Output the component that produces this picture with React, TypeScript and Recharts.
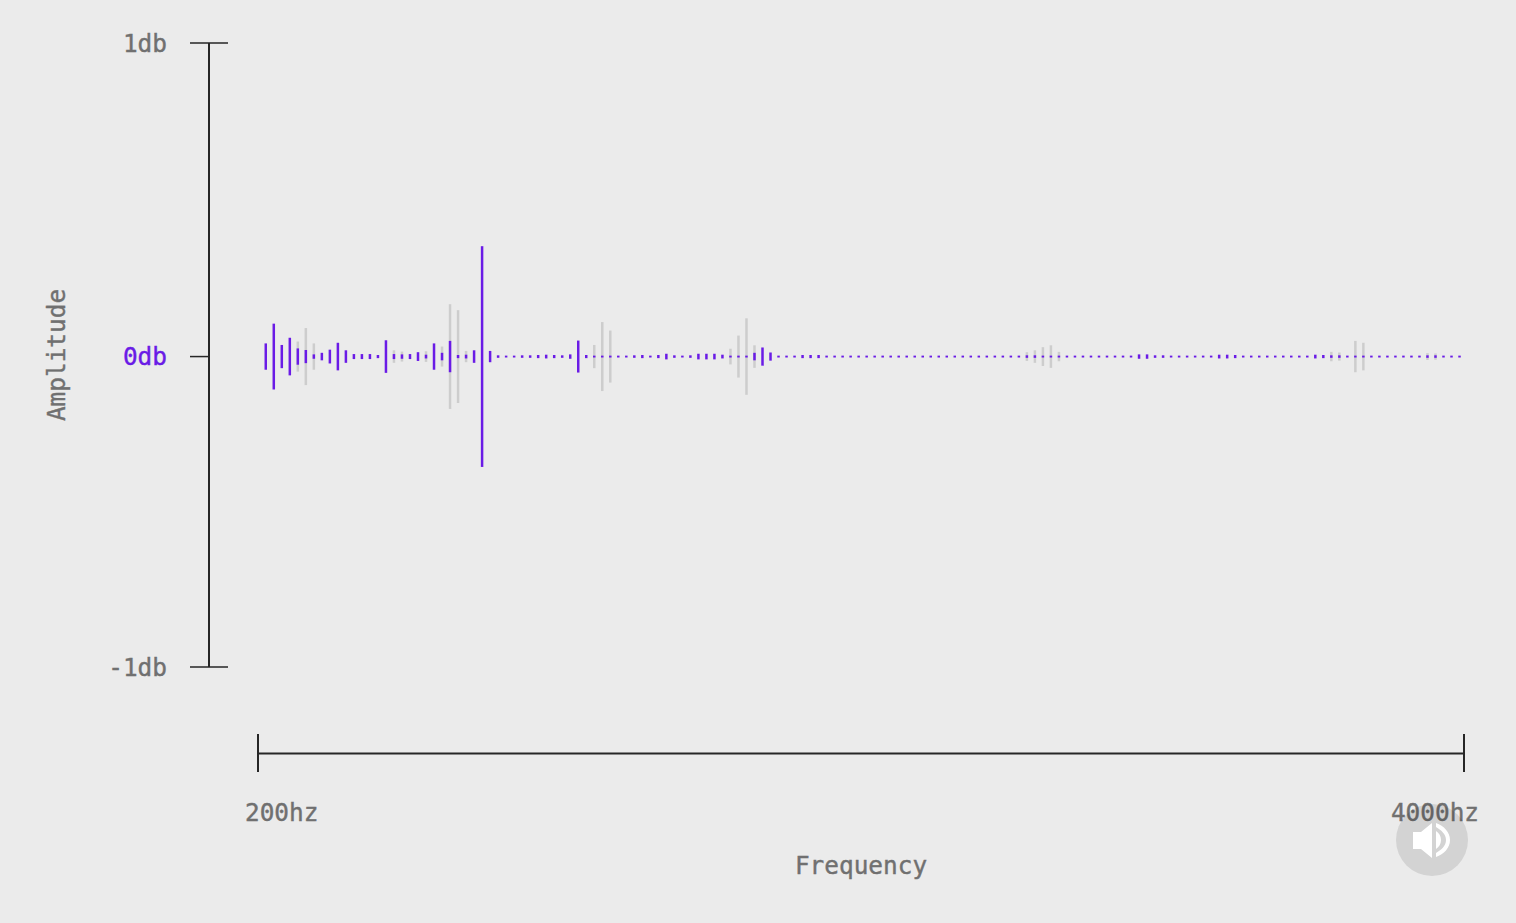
import { BarChart, Bar, XAxis, YAxis, Label, ReferenceLine } from 'recharts';

// amplitude (db, half the drawn height) per frequency bin
const voiced = [
  0.042, 0.105, 0.037, 0.06, 0.026, 0.021, 0.007, 0.012, 0.022, 0.044,
  0.02, 0.008, 0.008, 0.008, 0.005, 0.052, 0.008, 0.007, 0.008, 0.014,
  0.006, 0.042, 0.012, 0.05, 0.005, 0.006, 0.02, 0.352, 0.018, 0.004,
  0.003, 0.003, 0.004, 0.004, 0.005, 0.006, 0.005, 0.004, 0.007, 0.051,
  0.005, 0.003, 0.003, 0.003, 0.003, 0.003, 0.004, 0.005, 0.003, 0.005,
  0.009, 0.004, 0.003, 0.004, 0.009, 0.009, 0.009, 0.006, 0.003, 0.003,
  0.003, 0.012, 0.029, 0.013, 0.003, 0.003, 0.003, 0.005, 0.005, 0.005,
  0.003, 0.003, 0.003, 0.003, 0.003, 0.003, 0.003, 0.003, 0.003, 0.003,
  0.003, 0.003, 0.003, 0.003, 0.003, 0.003, 0.003, 0.003, 0.003, 0.003,
  0.003, 0.003, 0.003, 0.003, 0.003, 0.004, 0.004, 0.003, 0.003, 0.003,
  0.003, 0.003, 0.003, 0.003, 0.003, 0.003, 0.003, 0.003, 0.003, 0.007,
  0.007, 0.004, 0.004, 0.003, 0.003, 0.003, 0.003, 0.003, 0.003, 0.006,
  0.006, 0.005, 0.003, 0.003, 0.003, 0.003, 0.003, 0.003, 0.003, 0.003,
  0.003, 0.006, 0.005, 0.004, 0.004, 0.003, 0.003, 0.003, 0.003, 0.003,
  0.003, 0.003, 0.003, 0.003, 0.003, 0.004, 0.004, 0.003, 0.003, 0.003,
];

const unvoiced = [
  0, 0, 0, 0, 0.048, 0.091, 0.042, 0, 0, 0,
  0, 0, 0, 0, 0, 0, 0.02, 0.016, 0, 0,
  0.017, 0, 0.032, 0.167, 0.148, 0.018, 0, 0, 0, 0,
  0, 0, 0, 0, 0, 0, 0, 0, 0, 0,
  0, 0.037, 0.11, 0.083, 0, 0, 0, 0, 0, 0,
  0, 0, 0, 0, 0, 0, 0, 0, 0.025, 0.067,
  0.122, 0.036, 0, 0, 0, 0, 0, 0, 0, 0,
  0, 0, 0, 0, 0, 0, 0, 0, 0, 0,
  0, 0, 0, 0, 0, 0, 0, 0, 0, 0,
  0, 0, 0, 0, 0, 0.014, 0.02, 0.03, 0.036, 0.015,
  0, 0, 0, 0, 0, 0, 0, 0, 0, 0,
  0, 0, 0, 0, 0, 0, 0, 0, 0, 0,
  0, 0, 0, 0, 0, 0, 0, 0, 0, 0,
  0, 0, 0, 0.015, 0.013, 0, 0.05, 0.044, 0, 0,
  0, 0, 0, 0, 0, 0.011, 0.01, 0, 0, 0,
];

const ampTicks = [-0.99, 0, 1];
const ampLabels = ['-1db', '0db', '1db'];
const binDomain = [-0.94, 149.59];
const freqLabels = ['200hz', '4000hz'];

const data = voiced.map((v, bin) => ({
  bin,
  voiced: [-v, v],
  unvoiced: [-unvoiced[bin], unvoiced[bin]],
}));

const FONT = '"DejaVu Sans Mono", monospace';
const FONT_SIZE = 24.4;
const PURPLE = '#6a1be6';
const GRAY = '#cdcdcd';
const INK = '#262626';
const TEXT = '#707070';
const X_AXIS_VALUE = -1.2657;
const BAR_SIZE = 2.5;

function AmpTick({ x, y, payload }: any) {
  const isZero = payload.value === 0;
  const color = isZero ? PURPLE : TEXT;
  return (
    <g>
      <line x1={x - 19} x2={isZero ? x : x + 19} y1={y} y2={y} stroke={INK} strokeWidth={1.5} />
      <text
        x={167}
        y={y + 8.5}
        textAnchor="end"
        fontFamily={FONT}
        fontSize={FONT_SIZE}
        fill={color}
        stroke={color}
        strokeWidth={0.4}
      >
        {ampLabels[ampTicks.indexOf(payload.value)]}
      </text>
    </g>
  );
}

function FreqTick({ x, y, payload }: any) {
  const first = payload.value === binDomain[0];
  return (
    <g>
      <line x1={x} x2={x} y1={y + 67} y2={y + 105} stroke={INK} strokeWidth={2} />
      <text
        x={first ? x - 13 : x + 15}
        y={y + 154}
        textAnchor={first ? 'start' : 'end'}
        fontFamily={FONT}
        fontSize={FONT_SIZE}
        fill={TEXT}
        stroke={TEXT}
        strokeWidth={0.4}
      >
        {freqLabels[first ? 0 : 1]}
      </text>
    </g>
  );
}

function SpeakerBadge() {
  return (
    <svg
      width={72}
      height={72}
      viewBox="0 0 72 72"
      style={{ position: 'absolute', left: 1396, top: 804 }}
    >
      <circle cx={36} cy={36} r={36} fill="#000" fillOpacity={0.1} />
      <path d="M17 28h8l11-9v35l-11-9h-8z" fill="#fff" />
      <path d="M40 27c3 2 5 5 5 9s-2 7-5 9z" fill="#fff" />
      <path d="M40 19c8 3 14 9 14 17s-6 14-14 17v-4c5-3 10-7 10-13s-5-10-10-13z" fill="#fff" />
    </svg>
  );
}

export default function App() {
  return (
    <div
      style={{
        position: 'absolute',
        left: 0,
        top: 0,
        width: 1516,
        height: 923,
        background: '#ebebeb',
        overflow: 'hidden',
      }}
    >
      <BarChart
        width={1516}
        height={923}
        data={data}
        barSize={BAR_SIZE}
        barGap={-BAR_SIZE}
        margin={{ top: 43, right: 52, bottom: 0, left: 160 }}
      >
        <XAxis
          type="number"
          dataKey="bin"
          domain={binDomain}
          ticks={binDomain}
          padding={{ left: 49 }}
          height={256}
          axisLine={false}
          tickLine={false}
          tickSize={0}
          tickMargin={0}
          tick={<FreqTick />}
          allowDataOverflow
        >
          <Label
            content={() => (
              <text
                x={861}
                y={874}
                textAnchor="middle"
                fontFamily={FONT}
                fontSize={FONT_SIZE}
                fill={TEXT}
                stroke={TEXT}
                strokeWidth={0.4}
              >
                Frequency
              </text>
            )}
          />
        </XAxis>
        <YAxis
          type="number"
          domain={[-0.99, 1]}
          ticks={ampTicks}
          width={49}
          axisLine={{ stroke: INK, strokeWidth: 2 }}
          tickLine={false}
          tickSize={0}
          tickMargin={0}
          tick={<AmpTick />}
          interval={0}
        >
          <Label
            content={() => (
              <text
                x={65}
                y={355}
                transform="rotate(-90 65 355)"
                textAnchor="middle"
                fontFamily={FONT}
                fontSize={FONT_SIZE}
                fill={TEXT}
                stroke={TEXT}
                strokeWidth={0.4}
              >
                Amplitude
              </text>
            )}
          />
        </YAxis>
        <ReferenceLine
          segment={[
            { x: binDomain[0], y: X_AXIS_VALUE },
            { x: binDomain[1], y: X_AXIS_VALUE },
          ]}
          ifOverflow="visible"
          stroke={INK}
          strokeWidth={2}
        />
        <Bar dataKey="unvoiced" fill={GRAY} isAnimationActive={false} />
        <Bar dataKey="voiced" fill={PURPLE} isAnimationActive={false} />
      </BarChart>
      <SpeakerBadge />
    </div>
  );
}
